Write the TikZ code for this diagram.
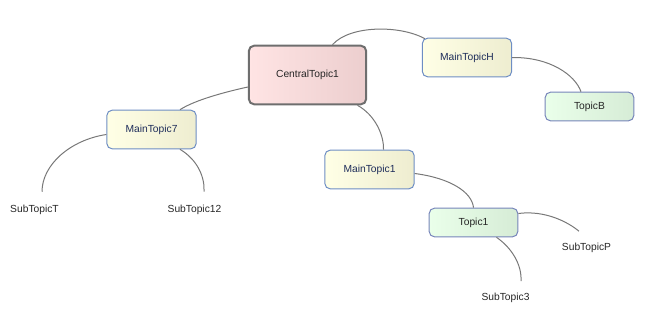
\documentclass[tikz,border=0pt]{standalone}
\usepackage{fontspec}
\setmainfont{Liberation Sans}
\usetikzlibrary{calc}
\definecolor{centralpink}{RGB}{255,228,228}
\definecolor{centralrose}{RGB}{236,206,206}
\definecolor{centralrim}{RGB}{110,110,110}
\definecolor{mainyellow}{RGB}{255,255,230}
\definecolor{mainolive}{RGB}{238,237,208}
\definecolor{topicgreen}{RGB}{234,255,234}
\definecolor{topicsage}{RGB}{214,236,214}
\definecolor{rimblue}{RGB}{110,142,196}
\definecolor{rimviolet}{RGB}{118,132,186}
\definecolor{labelnavy}{RGB}{30,45,90}
\definecolor{branchgray}{RGB}{120,120,120}
\begin{document}
\begin{tikzpicture}[x=0.75pt, y=-0.75pt,
  central/.style={rectangle, draw=centralrim, line width=1.5pt, left color=centralpink,
                  right color=centralrose, rounded corners=4pt, font=\fontsize{7.7}{9}\selectfont,
                  minimum width=88pt, minimum height=44pt, text=black!85},
  maintopic/.style={rectangle, draw=rimblue, line width=0.75pt, left color=mainyellow,
                    right color=mainolive, rounded corners=4pt, font=\fontsize{7.7}{9}\selectfont,
                    minimum width=67pt, minimum height=29pt, text=labelnavy},
  topic/.style={rectangle, draw=rimviolet, line width=0.75pt, left color=topicgreen,
                right color=topicsage, rounded corners=4pt, font=\fontsize{7.7}{9}\selectfont,
                minimum width=66.5pt, minimum height=21.5pt, text=black!85},
  subtopic/.style={inner sep=0pt, text height=6pt, text depth=0pt,
                   font=\fontsize{7.7}{9}\selectfont, text=black!85},
  branch/.style={draw=branchgray, line width=0.75pt},
]
  \useasboundingbox (0,0) rectangle (653,318);

  % Topic boxes
  \node[central] (cent) at (307.5,75) {CentralTopic1};
  \node[maintopic] (mtH) at (467,57.5) {MainTopicH};
  \node[maintopic] (mt7) at (151.5,129.5) {MainTopic7};
  \node[maintopic] (mt1) at (369.5,169.5) {MainTopic1};
  \node[topic] (tB) at (589.5,106.5) {TopicB};
  \node[topic] (t1) at (473.5,222.5) {Topic1};

  % Sub topics (text only)
  \node[subtopic] (sT) at (34.5,208) {SubTopicT};
  \node[subtopic] (s12) at (194.5,208) {SubTopic12};
  \node[subtopic] (sP) at (586.5,246.5) {SubTopicP};
  \node[subtopic] (s3) at (505.5,296.5) {SubTopic3};

  % Branches
  \draw[branch] ($(cent.north)+(25,0)$) .. controls (350,25) and (400,25) .. ($(mtH.north west)+(3,1)$);
  \draw[branch] (mtH.east) .. controls (550,57) and (575,75) .. ($(tB.north)+(-8.5,0)$);
  \draw[branch] ($(cent.west)+(0,12)$) .. controls (225,92) and (195,100) .. ($(mt7.north)+(28.5,0)$);
  \draw[branch] ($(cent.south)+(50,0)$) .. controls (375,115) and (384,135) .. ($(mt1.north)+(14,0)$);
  \draw[branch] ($(mt7.west)+(0,5)$) .. controls (70,140) and (42,165) .. ($(sT.north)+(7.5,-12)$);
  \draw[branch] ($(mt7.south)+(28.5,0)$) .. controls (198,160) and (205,178) .. ($(s12.north)+(9.5,-12)$);
  \draw[branch] ($(mt1.east)+(0,4)$) .. controls (450,178) and (472,192) .. (t1.north);
  \draw[branch] ($(t1.east)+(0,-9)$) .. controls (545,210) and (568,222) .. ($(sP.north)+(-7.5,-11)$);
  \draw[branch] ($(t1.south)+(23,0)$) .. controls (512,248) and (522,265) .. ($(s3.north)+(15.5,-11)$);
\end{tikzpicture}
\end{document}
